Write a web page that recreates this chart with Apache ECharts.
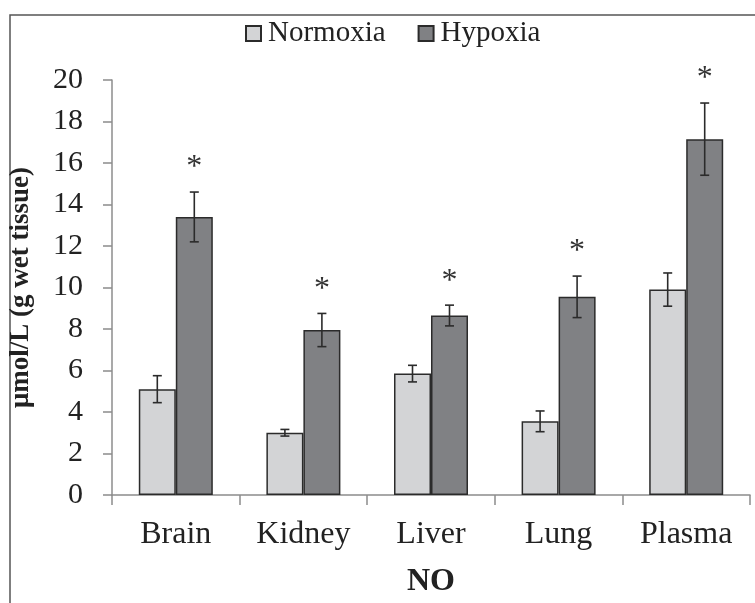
<!DOCTYPE html>
<html>
<head>
<meta charset="utf-8">
<script src="https://cdn.jsdelivr.net/npm/echarts@6/dist/echarts.min.js"></script>
<style>
  html, body { margin: 0; padding: 0; background: #fff; }
  #main { width: 755px; height: 603px; }
</style>
</head>
<body>
<div id="main"></div>
<script>
// 数据
var categories = ['Brain', 'Kidney', 'Liver', 'Lung', 'Plasma'];
var normoxia = [5.1, 3.0, 5.85, 3.55, 9.9];
var normoxiaErr = [0.65, 0.16, 0.4, 0.5, 0.8];
var hypoxia = [13.4, 7.95, 8.65, 9.55, 17.15];
var hypoxiaErr = [1.2, 0.8, 0.5, 1.0, 1.74];
var yTicks = { min: 0, max: 20, interval: 2 };

var serif = '"Liberation Serif", "DejaVu Serif", serif';
var barW = 37;

// 误差线 + 星号
function errSeries(name, means, errs, offset, star) {
  var data = means.map(function (m, i) {
    return [i, m - errs[i], m + errs[i]];
  });
  return {
    name: name,
    type: 'custom',
    z: 5,
    silent: true,
    data: data,
    renderItem: function (params, api) {
      var i = api.value(0);
      var lo = api.coord([i, api.value(1)]);
      var hi = api.coord([i, api.value(2)]);
      var x = lo[0] + offset;
      var cap = 4.5;
      var style = { stroke: '#2b2b2b', lineWidth: 1.6 };
      var children = [
        { type: 'line', shape: { x1: x, y1: hi[1], x2: x, y2: lo[1] }, style: style },
        { type: 'line', shape: { x1: x - cap, y1: hi[1], x2: x + cap, y2: hi[1] }, style: style },
        { type: 'line', shape: { x1: x - cap, y1: lo[1], x2: x + cap, y2: lo[1] }, style: style }
      ];
      if (star) {
        children.push({
          type: 'text',
          style: {
            text: '*', x: x, y: hi[1] - 24,
            align: 'center', verticalAlign: 'middle',
            font: '32px ' + serif, fill: '#333'
          }
        });
      }
      return { type: 'group', children: children };
    }
  };
}

var myChart = echarts.init(document.getElementById('main'));
var option = {
  backgroundColor: '#fff',
  animation: false,
  graphic: [{
    type: 'rect',
    shape: { x: 10, y: 15, width: 800, height: 700 },
    style: { fill: 'none', stroke: '#555', lineWidth: 1.5 },
    silent: true
  }],
  legend: {
    top: 14,
    left: 240,
    icon: 'rect',
    itemWidth: 15,
    itemHeight: 15,
    itemGap: 32,
    selectedMode: false,
    data: ['Normoxia', 'Hypoxia'],
    textStyle: { fontFamily: serif, fontSize: 29, color: '#222', padding: [0, 0, 0, 2] }
  },
  grid: { left: 110, right: 5, top: 80, bottom: 100 },
  xAxis: {
    type: 'category',
    data: categories,
    name: 'NO',
    nameLocation: 'middle',
    nameGap: 71,
    nameTextStyle: { fontFamily: serif, fontSize: 32, fontWeight: 'bold', color: '#222' },
    axisLine: { lineStyle: { color: '#8c8c8c', width: 1.5 } },
    axisTick: { show: true, length: 10, lineStyle: { color: '#8c8c8c', width: 1.5 } },
    axisLabel: { fontFamily: serif, fontSize: 32, color: '#222', margin: 24 }
  },
  yAxis: {
    type: 'value',
    min: yTicks.min,
    max: yTicks.max,
    interval: yTicks.interval,
    name: 'μmol/L (g wet tissue)',
    nameLocation: 'middle',
    nameGap: 77,
    nameRotate: 90,
    nameTextStyle: { fontFamily: serif, fontSize: 27, fontWeight: 'bold', color: '#222' },
    axisLine: { show: true, lineStyle: { color: '#8c8c8c', width: 1.5 } },
    axisTick: { show: true, length: 9, lineStyle: { color: '#8c8c8c', width: 1.5 } },
    splitLine: { show: false },
    axisLabel: { fontFamily: serif, fontSize: 30, color: '#222', margin: 29 }
  },
  series: [
    {
      name: 'Normoxia',
      type: 'bar',
      data: normoxia,
      barWidth: barW,
      barGap: '0%',
      itemStyle: { color: '#d3d4d6', borderColor: '#2b2b2b', borderWidth: 1.5 }
    },
    {
      name: 'Hypoxia',
      type: 'bar',
      data: hypoxia,
      barWidth: barW,
      barGap: '0%',
      itemStyle: { color: '#808184', borderColor: '#2b2b2b', borderWidth: 1.5 }
    },
    errSeries('NormoxiaErr', normoxia, normoxiaErr, -barW / 2, false),
    errSeries('HypoxiaErr', hypoxia, hypoxiaErr, barW / 2, true)
  ]
};
myChart.setOption(option);
</script>
</body>
</html>
